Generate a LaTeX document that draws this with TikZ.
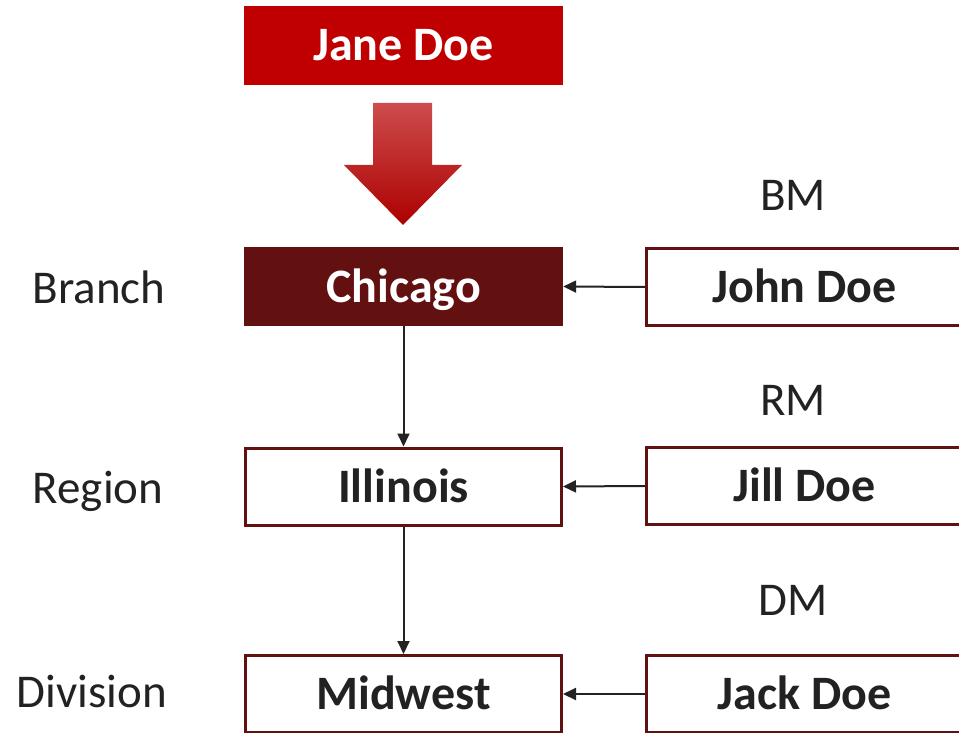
\documentclass[tikz,border=0pt]{standalone}
\usepackage{fontspec}
\setmainfont{Carlito}
\usetikzlibrary{arrows.meta}
\definecolor{janered}{HTML}{C00000}
\definecolor{darkred}{HTML}{621010}
\definecolor{linegray}{HTML}{222222}
\begin{document}
\begin{tikzpicture}[x=1pt,y=-1pt,
  box/.style={draw=darkred,line width=3pt,fill=white,minimum width=316pt,minimum height=77pt,inner sep=0pt,text height=31pt,text depth=0pt,font=\fontsize{48}{52}\selectfont\bfseries,text=linegray},
  fillbox/.style={minimum width=319pt,minimum height=79pt,inner sep=0pt,text height=31pt,text depth=0pt,font=\fontsize{48}{52}\selectfont\bfseries,text=white},
  lbl/.style={font=\fontsize{47}{52}\selectfont,text=linegray,inner sep=0pt,text height=30pt,text depth=0pt},
  conn/.style={draw=linegray,line width=2pt,-{Triangle[length=13pt,width=12pt]}}]
\useasboundingbox (0,0) rectangle (959,733);
\begin{scope}
\clip (0,0) rectangle (959,733);
\node[fillbox,fill=janered] (jane) at (403.5,45.5) {Jane Doe};
\shade[top color=red!45!black!10!janered!70!white, bottom color=janered!90!black]
  (373,103) -- (432,103) -- (432,165) -- (462,165) -- (403,225) -- (344,165) -- (373,165) -- cycle;
\node[fillbox,fill=darkred] (chicago) at (403.5,286.5) {Chicago};
\node[box] (illinois) at (403.5,486.5) {Illinois};
\node[box] (midwest) at (403.5,694) {Midwest};
\node[box] (john) at (804.5,287) {John Doe};
\node[box] (jill) at (804.5,486) {Jill Doe};
\node[box] (jack) at (804.5,694) {Jack Doe};
\end{scope}
\node[lbl] (bm) at (793,196) {BM};
\node[lbl] (rm) at (793,400) {RM};
\node[lbl] (dm) at (793,600) {DM};
\node[lbl] (branch) at (99,288) {Branch};
\node[lbl] (region) at (98,488) {Region};
\node[lbl] (division) at (92,692) {Division};
\draw[conn] (chicago.south) -- (illinois.north);
\draw[conn] (illinois.south) -- (midwest.north);
\draw[conn] (john.west) -- (chicago.east);
\draw[conn] (jill.west) -- (illinois.east);
\draw[conn] (jack.west) -- (midwest.east);
\end{tikzpicture}
\end{document}
